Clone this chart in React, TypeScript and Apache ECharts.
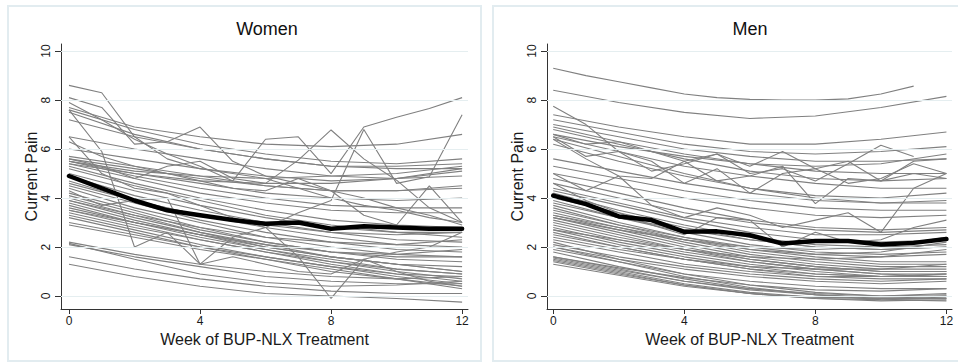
import React, { useEffect, useRef } from "react";
import * as echarts from "echarts";

// ---------- data ----------
const allWeeks = [0, 1, 2, 3, 4, 5, 6, 7, 8, 9, 10, 11, 12];
const evenWeeks = [0, 2, 4, 6, 8, 10, 12];
const xTicks = [0, 4, 8, 12];
const yTicks = [0, 2, 4, 6, 8, 10];
const panelTitles = ["Women", "Men"];
const xAxisName = "Week of BUP-NLX Treatment";
const yAxisName = "Current Pain";

const womenMean = [4.9, 4.4, 3.9, 3.5, 3.3, 3.1, 2.95, 3.0, 2.75, 2.85, 2.8, 2.75, 2.75];
const menMean = [4.1, 3.75, 3.25, 3.1, 2.62, 2.64, 2.48, 2.14, 2.25, 2.25, 2.1, 2.17, 2.33];

// individual fitted trajectories, values at weeks 0,2,4,6,8,10,12
const womenSmooth = [
  [7.7, 6.9, 6.5, 6.2, 6.1, 6.2, 6.6],
  [7.6, 6.8, 6.2, 5.8, 5.5, 5.4, 5.6],
  [7.5, 6.6, 6.0, 5.6, 5.3, 5.3, 5.4],
  [7.2, 6.5, 6.0, 5.6, 5.3, 5.2, 5.2],
  [6.5, 6.0, 5.6, 5.2, 4.9, 4.8, 4.9],
  [6.0, 5.6, 5.2, 4.9, 4.7, 4.8, 5.1],
  [5.5, 5.1, 4.9, 4.8, 4.9, 5.0, 5.3],
  [5.4, 5.0, 4.7, 4.6, 4.6, 4.8, 5.2],
  [5.7, 5.3, 4.9, 4.5, 4.3, 4.3, 4.5],
  [5.6, 5.2, 4.8, 4.5, 4.3, 4.3, 4.4],
  [5.5, 5.0, 4.6, 4.2, 4.0, 3.9, 4.0],
  [5.5, 4.9, 4.4, 4.0, 3.7, 3.6, 3.6],
  [5.4, 4.8, 4.2, 3.8, 3.5, 3.4, 3.4],
  [5.3, 4.6, 4.0, 3.5, 3.1, 2.9, 2.8],
  [5.2, 4.5, 3.9, 3.3, 2.9, 2.6, 2.4],
  [5.0, 4.3, 3.7, 3.2, 2.8, 2.6, 2.6],
  [4.9, 4.1, 3.5, 3.0, 2.6, 2.3, 2.2],
  [4.7, 3.9, 3.3, 2.8, 2.4, 2.1, 2.0],
  [4.6, 3.9, 3.3, 2.9, 2.6, 2.5, 2.6],
  [4.5, 3.8, 3.1, 2.6, 2.2, 1.9, 1.8],
  [4.4, 3.6, 3.0, 2.4, 2.0, 1.7, 1.6],
  [4.2, 3.5, 2.8, 2.2, 1.8, 1.5, 1.4],
  [4.1, 3.4, 2.7, 2.2, 1.8, 1.6, 1.6],
  [4.0, 3.3, 2.6, 2.0, 1.6, 1.3, 1.2],
  [3.9, 3.2, 2.6, 2.1, 1.6, 1.3, 1.0],
  [3.9, 3.3, 2.8, 2.4, 2.2, 2.1, 2.3],
  [3.8, 3.1, 2.5, 1.9, 1.5, 1.1, 0.9],
  [3.7, 3.0, 2.4, 1.9, 1.4, 1.0, 0.7],
  [3.6, 3.0, 2.5, 2.0, 1.6, 1.3, 1.0],
  [3.5, 3.0, 2.5, 2.1, 1.8, 1.7, 1.9],
  [3.5, 2.9, 2.3, 1.8, 1.3, 0.9, 0.6],
  [3.4, 2.8, 2.3, 1.8, 1.4, 1.1, 0.9],
  [3.3, 2.7, 2.1, 1.6, 1.2, 0.8, 0.5],
  [3.2, 2.6, 2.0, 1.5, 1.0, 0.7, 0.4],
  [3.0, 2.5, 2.0, 1.6, 1.2, 0.9, 0.8],
  [2.9, 2.4, 1.9, 1.5, 1.1, 0.7, 0.3],
  [2.2, 1.7, 1.3, 1.0, 0.8, 0.7, 0.8],
  [2.1, 1.6, 1.2, 0.8, 0.6, 0.5, 0.5],
  [2.15, 1.5, 0.9, 0.55, 0.4, 0.45, 0.6],
  [1.6, 1.1, 0.7, 0.4, 0.2, 0.1, 0.1],
  [1.3, 0.8, 0.4, 0.1, 0.0, -0.1, -0.25],
];

// observed (raw) trajectories, weekly values 0..12
const womenRaw = [
  [8.6, 8.3, 6.5, 5.6, 5.2, 5.0, 4.8, 4.4, 4.0, 3.7, 3.5, 3.2, 3.0],
  [8.1, 7.7, 6.2, 6.3, 6.9, 5.5, 4.9, 4.6, 4.3, 4.0, 3.6, 3.3, 2.9],
  [7.9, 7.2, 6.4, 5.8, 5.3, 4.7, 6.4, 6.5, 5.0, 6.9, 7.3, 7.66, 8.1],
  [7.6, 5.9, 2.0, 2.6, 1.3, 1.6, 1.3, 1.0, 0.9, 1.5, 1.0, 0.6, 0.4],
  [5.6, 5.3, 4.8, 5.3, 5.5, 4.8, 4.6, 5.55, 6.78, 5.6, 4.73, 3.6, 3.0],
  [6.5, 5.0, 4.4, 4.2, 3.7, 3.2, 2.8, 1.6, -0.1, 1.5, 1.8, 2.0, 2.6],
  [4.3, 3.7, 3.9, 4.0, 1.3, 2.4, 2.8, 3.4, 3.9, 6.8, 4.6, 4.87, 7.4],
  [6.3, 5.7, 5.3, 5.0, 4.7, 4.4, 4.3, 4.8, 4.3, 3.3, 2.9, 4.5, 3.0],
];

const menSmooth = [
  [8.4, 7.9, 7.5, 7.25, 7.35, 7.7, 8.15],
  [7.4, 6.9, 6.5, 6.2, 6.2, 6.4, 6.7],
  [7.2, 6.7, 6.2, 5.9, 5.8, 5.9, 6.1],
  [7.0, 6.5, 6.0, 5.7, 5.5, 5.5, 5.6],
  [6.9, 6.3, 5.8, 5.4, 5.1, 5.0, 5.0],
  [6.8, 6.2, 5.6, 5.1, 4.8, 4.7, 4.8],
  [6.6, 6.1, 5.7, 5.4, 5.3, 5.4, 5.8],
  [6.5, 5.9, 5.3, 4.9, 4.6, 4.4, 4.4],
  [6.4, 5.7, 5.0, 4.4, 4.0, 3.8, 3.8],
  [6.2, 5.5, 4.9, 4.4, 4.1, 4.0, 4.2],
  [5.6, 5.1, 4.6, 4.2, 3.9, 3.8, 3.9],
  [5.3, 4.8, 4.3, 3.9, 3.6, 3.5, 3.5],
  [5.0, 4.5, 4.0, 3.6, 3.3, 3.2, 3.3],
  [4.8, 4.2, 3.6, 3.1, 2.8, 2.7, 2.8],
  [4.6, 4.0, 3.4, 3.0, 2.7, 2.6, 2.7],
  [4.4, 3.8, 3.2, 2.8, 2.5, 2.5, 2.6],
  [4.3, 3.7, 3.1, 2.6, 2.3, 2.2, 2.3],
  [4.2, 3.5, 2.9, 2.4, 2.1, 2.0, 2.1],
  [4.0, 3.4, 2.8, 2.3, 2.0, 1.9, 2.0],
  [3.9, 3.2, 2.6, 2.1, 1.8, 1.7, 1.8],
  [3.8, 3.2, 2.7, 2.3, 2.0, 1.9, 2.0],
  [3.7, 3.0, 2.4, 1.9, 1.6, 1.4, 1.4],
  [3.6, 2.9, 2.3, 1.8, 1.5, 1.3, 1.3],
  [3.5, 2.9, 2.4, 2.0, 1.7, 1.6, 1.7],
  [3.4, 2.8, 2.2, 1.7, 1.4, 1.2, 1.2],
  [3.3, 2.7, 2.1, 1.6, 1.3, 1.1, 1.1],
  [3.3, 2.8, 2.3, 1.9, 1.7, 1.8, 2.2],
  [3.2, 2.6, 2.0, 1.5, 1.2, 1.0, 1.0],
  [3.2, 2.7, 2.3, 2.0, 1.9, 2.0, 2.4],
  [3.1, 2.5, 1.9, 1.4, 1.1, 0.9, 0.9],
  [3.0, 2.4, 1.9, 1.5, 1.2, 1.0, 1.0],
  [2.9, 2.3, 1.8, 1.4, 1.1, 0.9, 0.8],
  [2.8, 2.2, 1.7, 1.3, 1.0, 0.8, 0.8],
  [2.7, 2.1, 1.6, 1.2, 0.9, 0.8, 0.8],
  [2.7, 2.3, 1.9, 1.6, 1.5, 1.6, 1.9],
  [2.6, 2.0, 1.5, 1.1, 0.8, 0.7, 0.7],
  [2.5, 2.0, 1.5, 1.1, 0.9, 0.8, 0.9],
  [2.4, 1.9, 1.5, 1.2, 1.1, 1.1, 1.3],
  [2.3, 1.8, 1.3, 1.0, 0.8, 0.8, 0.9],
  [2.2, 1.5, 0.9, 0.45, 0.15, 0.0, 0.05],
  [2.1, 1.6, 1.2, 0.9, 0.7, 0.6, 0.7],
  [2.0, 1.5, 1.1, 0.8, 0.6, 0.5, 0.6],
  [2.0, 1.4, 0.8, 0.35, 0.05, -0.15, -0.2],
  [1.9, 1.4, 0.9, 0.6, 0.4, 0.3, 0.3],
  [1.8, 1.2, 0.7, 0.3, 0.05, -0.1, -0.1],
  [1.6, 1.15, 0.75, 0.45, 0.25, 0.2, 0.3],
  [1.6, 1.1, 0.6, 0.3, 0.1, 0.0, 0.1],
  [1.55, 1.05, 0.6, 0.25, 0.05, -0.05, 0.0],
  [1.5, 1.0, 0.5, 0.15, -0.05, -0.1, -0.05],
  [1.45, 0.95, 0.45, 0.1, -0.1, -0.15, -0.1],
  [1.4, 0.9, 0.45, 0.1, -0.1, -0.2, -0.15],
  [1.3, 0.85, 0.4, 0.1, -0.05, -0.1, 0.0],
];

const menRaw = [
  [9.3, 9.0, 8.75, 8.5, 8.25, 8.1, 8.03, 8.0, 8.0, 8.05, 8.25, 8.57, null],
  [6.5, 5.7, 5.9, 5.1, 5.4, 5.8, 5.0, 5.2, 4.7, 5.4, 6.16, 5.7, null],
  [6.4, 5.6, 4.9, 4.8, 5.5, 4.7, 4.9, 5.3, 3.77, 4.8, 4.7, 5.5, 5.6],
  [7.75, 7.0, 5.9, 5.5, 4.6, 5.2, 4.2, 5.0, 5.2, 4.6, 4.8, 5.4, 5.0],
  [5.0, 4.3, 4.9, 3.7, 3.2, 3.6, 3.3, 2.8, 3.1, 3.4, 2.6, 4.4, 5.0],
  [4.6, 3.9, 3.4, 2.9, 2.5, 3.2, 3.1, 2.0, 2.6, 2.2, 2.3, 2.8, 3.1],
  [6.6, 6.2, 6.3, 5.9, 5.5, 5.8, 5.3, 5.9, 5.2, 5.5, 4.7, 5.0, 4.8],
];

// ---------- helpers ----------
type Val = number | null;
const pairs = (weeks: number[], vals: Val[]) =>
  weeks
    .map((w, i) => (vals[i] == null ? null : [w, vals[i] as number]))
    .filter((p) => p !== null);

const GREY = "#808080";
const FONT = "Liberation Sans, Arial, sans-serif";
const TXT = "#1a1a1a";

function panelSeries(idx: number, smooth: Val[][], raw: Val[][], mean: number[]) {
  const list: any[] = [];
  // gridlines via markLine (low z)
  list.push({
    type: "line",
    xAxisIndex: idx,
    yAxisIndex: idx,
    data: pairs(allWeeks, mean),
    lineStyle: { opacity: 0 },
    symbol: "none",
    silent: true,
    z: 1,
    markLine: {
      silent: true,
      symbol: "none",
      label: { show: false },
      lineStyle: { color: "#e5eef0", width: 1, type: "solid" },
      data: yTicks.map((v) => ({ yAxis: v })),
    },
  });
  smooth.forEach((s) =>
    list.push({
      type: "line",
      xAxisIndex: idx,
      yAxisIndex: idx,
      data: pairs(evenWeeks, s),
      symbol: "none",
      silent: true,
      lineStyle: { color: GREY, width: 1.1 },
      z: 2,
    })
  );
  raw.forEach((s) =>
    list.push({
      type: "line",
      xAxisIndex: idx,
      yAxisIndex: idx,
      data: pairs(allWeeks, s),
      symbol: "none",
      silent: true,
      lineStyle: { color: GREY, width: 1.1 },
      z: 2,
    })
  );
  list.push({
    type: "line",
    xAxisIndex: idx,
    yAxisIndex: idx,
    data: pairs(allWeeks, mean),
    symbol: "none",
    silent: true,
    lineStyle: { color: "#000", width: 4.5, join: "round", cap: "round" },
    z: 5,
  });
  return list;
}

function xAxisFor(idx: number, min: number, max: number) {
  return {
    type: "value",
    gridIndex: idx,
    min,
    max,
    axisLine: { show: true, onZero: false, lineStyle: { color: "#333", width: 1 } },
    axisTick: { show: true, customValues: xTicks, length: 5, lineStyle: { color: "#333" } },
    axisLabel: { customValues: xTicks, fontSize: 12, color: TXT, fontFamily: FONT, margin: 6 },
    splitLine: { show: false },
    name: xAxisName,
    nameLocation: "middle",
    nameGap: 20,
    nameTextStyle: { fontSize: 16, color: TXT, fontFamily: FONT },
  };
}

function yAxisFor(idx: number) {
  return {
    type: "value",
    gridIndex: idx,
    min: -0.53,
    max: 10.29,
    axisLine: { show: true, onZero: false, lineStyle: { color: "#333", width: 1 } },
    axisTick: { show: true, customValues: yTicks, length: 6, lineStyle: { color: "#333" } },
    axisLabel: {
      customValues: yTicks,
      fontSize: 12,
      color: TXT,
      fontFamily: FONT,
      rotate: 90,
      margin: 9,
    },
    splitLine: { show: false },
    name: yAxisName,
    nameLocation: "middle",
    nameRotate: 90,
    nameGap: 22,
    nameTextStyle: { fontSize: 16, color: TXT, fontFamily: FONT },
  };
}

export default function App() {
  const ref = useRef<HTMLDivElement>(null);
  useEffect(() => {
    if (!ref.current) return;
    const chart = echarts.init(ref.current, undefined, { renderer: "svg" });
    chart.setOption({
      animation: false,
      backgroundColor: "#fff",
      title: [
        {
          text: panelTitles[0],
          left: 267,
          top: 20,
          textAlign: "center",
          padding: 0,
          textStyle: { fontSize: 18, fontWeight: "normal", color: "#111", fontFamily: FONT },
        },
        {
          text: panelTitles[1],
          left: 750,
          top: 20,
          textAlign: "center",
          padding: 0,
          textStyle: { fontSize: 18, fontWeight: "normal", color: "#111", fontFamily: FONT },
        },
      ],
      grid: [
        { left: 61, top: 44, width: 407, height: 265, containLabel: false },
        { left: 547, top: 44, width: 405, height: 265, containLabel: false },
      ],
      xAxis: [xAxisFor(0, -0.244, 12.18), xAxisFor(1, -0.19, 12.17)],
      yAxis: [yAxisFor(0), yAxisFor(1)],
      graphic: [
        {
          type: "rect",
          shape: { x: 8, y: 6, width: 473, height: 355 },
          style: { fill: "none", stroke: "#e2ecf0", lineWidth: 2 },
          silent: true,
          z: -10,
        },
        {
          type: "rect",
          shape: { x: 493, y: 6, width: 470, height: 355 },
          style: { fill: "none", stroke: "#e2ecf0", lineWidth: 2 },
          silent: true,
          z: -10,
        },
      ],
      series: [
        ...panelSeries(0, womenSmooth, womenRaw, womenMean),
        ...panelSeries(1, menSmooth, menRaw, menMean),
      ],
    });
    return () => chart.dispose();
  }, []);
  return (
    <div
      ref={ref}
      style={{ position: "fixed", left: 0, top: 0, width: 958, height: 363 }}
    />
  );
}
